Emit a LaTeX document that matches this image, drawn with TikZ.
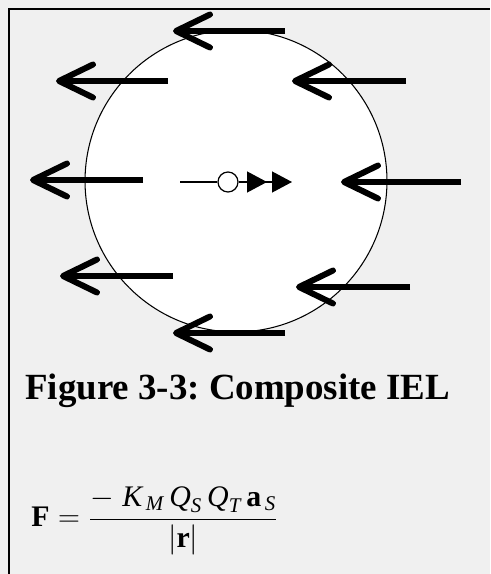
\documentclass[tikz,border=0pt]{standalone}
\usepackage{fontspec}
\setmainfont{Liberation Serif}
\usepackage{amsmath}
\usepackage{xcolor}
\usetikzlibrary{positioning, arrows.meta}
\frenchspacing

\definecolor{fond}{RGB}{240,240,240}

\tikzset{
    force/.style={line width=0.12cm, -{Straight Barb[length=0.68cm,width=0.66cm,round]}},
    sphere/.style={draw, circle, fill=white, line width=0.6pt, minimum size=6.04cm, inner sep=0pt},
    charge/.style={draw, circle, fill=white, line width=0.7pt, minimum size=0.4cm, inner sep=0pt},
}

\begin{document}
\begin{tikzpicture}[x=0.02cm, y=-0.02cm]
    % Fond et cadre
    \fill[fond] (0,0) rectangle (490,574);
    \useasboundingbox (0,0) rectangle (490,574);
    \draw[line width=0.9pt] (9,574) -- (9,9) -- (490,9);

    % Sphere
    \node[sphere] (shell) at (236,181) {};

    % Charge test
    \node[charge] (test) at (228,182) {};
    \coordinate (tail) at (180,182);
    \coordinate (head) at (292,182);
    \draw[line width=0.7pt] (tail) -- (test);
    \draw[line width=0.7pt, shorten >=0.4cm] (test) -- (head);
    \draw[line width=0.7pt, -{Triangle[length=0.4cm,width=0.42cm,sep=0.1cm]Triangle[length=0.4cm,width=0.42cm]}] (test) -- (head);

    % Forces
    \coordinate (topE) at (285,31);  \coordinate (topT) at (173,31);
    \coordinate (ulE) at (168,81);   \coordinate (ulT) at (56,81);
    \coordinate (urE) at (406,81);   \coordinate (urT) at (292,81);
    \coordinate (mlE) at (143,180);  \coordinate (mlT) at (30,180);
    \coordinate (mrE) at (461,182);  \coordinate (mrT) at (341,182);
    \coordinate (llE) at (173,276);  \coordinate (llT) at (60,276);
    \coordinate (lrE) at (410,287);  \coordinate (lrT) at (296,287);
    \coordinate (botE) at (285,333); \coordinate (botT) at (173,333);
    \draw[force] (topE) -- (topT);
    \draw[force] (ulE) -- (ulT);
    \draw[force] (urE) -- (urT);
    \draw[force] (mlE) -- (mlT);
    \draw[force] (mrE) -- (mrT);
    \draw[force] (llE) -- (llT);
    \draw[force] (lrE) -- (lrT);
    \draw[force] (botE) -- (botT);

    % Legende
    \node[anchor=base west, inner sep=0pt, font=\fontsize{21}{25}\selectfont\bfseries] (caption) at (25,399) {Figure 3-3: Composite IEL};

    % Formule
    \node[anchor=west, inner sep=0pt, font=\fontsize{17}{20}\selectfont] (formula) at (31,521)
        {$\textbf{F} = \dfrac{-\;\textit{K}_{\,\textit{M}}\,\textit{Q}_{\textit{S}}\,\textit{Q}_{\textit{T}}\,\textbf{a}_{\,\textit{S}}}{\left|\textbf{r}\right|}$};
\end{tikzpicture}
\end{document}
